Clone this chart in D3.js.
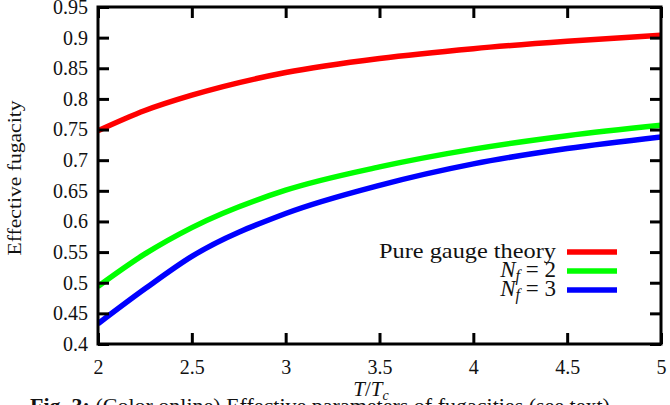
<!DOCTYPE html>
<html lang="en">
<head>
<meta charset="UTF-8">
<title>Effective fugacity</title>
<script src="https://d3js.org/d3.v7.min.js"></script>
<style>
  body { margin: 0; background: #fff; }
  svg { display: block; }
  text { font-family: "Liberation Serif", "DejaVu Serif", serif; fill: #111; }
</style>
</head>
<body>
<svg id="chart" width="670" height="405"></svg>
<script>
// values
const temps = [2, 2.25, 2.5, 3, 3.5, 4, 4.5, 5];
const pureGauge = [0.748, 0.781, 0.806, 0.843, 0.866, 0.882, 0.894, 0.904];
const nf2 = [0.494, 0.547, 0.590, 0.651, 0.689, 0.718, 0.740, 0.757];
const nf3 = [0.433, 0.490, 0.543, 0.613, 0.659, 0.694, 0.719, 0.738];
const xTicks = [2, 2.5, 3, 3.5, 4, 4.5, 5];
const yTicks = [0.4, 0.45, 0.5, 0.55, 0.6, 0.65, 0.7, 0.75, 0.8, 0.85, 0.9, 0.95];
const seriesNames = ["Pure gauge theory", "N_f = 2", "N_f = 3"];
const seriesColors = ["#ff0000", "#00ff00", "#0000ff"];

const svg = d3.select("#chart");
const L = 98, R = 661, T = 7, B = 344;

const x = d3.scaleLinear().domain([2, 5]).range([L, R]);
const y = d3.scaleLinear().domain([0.4, 0.95]).range([B, T]);

svg.append("clipPath").attr("id", "plotclip")
  .append("rect").attr("x", L).attr("y", T).attr("width", R - L).attr("height", B - T);

// curves
const line = d3.line().x(d => x(d[0])).y(d => y(d[1])).curve(d3.curveMonotoneX);
[pureGauge, nf2, nf3].forEach((vals, i) => {
  svg.append("path")
    .datum(temps.map((t, j) => [t, vals[j]]))
    .attr("d", line)
    .attr("fill", "none")
    .attr("stroke", seriesColors[i])
    .attr("stroke-width", 5.5)
    .attr("clip-path", "url(#plotclip)");
});

// axes, ticks inward and mirrored
const tickLen = 11;
const axisStyle = g => {
  g.select(".domain").remove();
  g.selectAll(".tick line").attr("stroke", "#000").attr("stroke-width", 3);
  g.selectAll(".tick text").attr("font-size", 20).attr("font-family", "Liberation Serif, serif").attr("fill", "#111");
};
svg.append("g").attr("transform", `translate(0,${B})`)
  .call(d3.axisBottom(x).tickValues(xTicks).tickSize(-tickLen).tickPadding(16).tickFormat(d3.format("")))
  .call(axisStyle);
svg.append("g").attr("transform", `translate(0,${T})`)
  .call(d3.axisTop(x).tickValues(xTicks).tickSize(-tickLen).tickFormat(""))
  .call(axisStyle);
svg.append("g").attr("transform", `translate(${L},0)`)
  .call(d3.axisLeft(y).tickValues(yTicks).tickSize(-tickLen).tickPadding(10).tickFormat(d3.format("")))
  .call(axisStyle);
svg.append("g").attr("transform", `translate(${R},0)`)
  .call(d3.axisRight(y).tickValues(yTicks).tickSize(-tickLen).tickFormat(""))
  .call(axisStyle);

svg.append("rect")
  .attr("x", L).attr("y", T).attr("width", R - L).attr("height", B - T)
  .attr("fill", "none").attr("stroke", "#000").attr("stroke-width", 3);

// legend
const legY = [252, 271, 290];
seriesNames.forEach((name, i) => {
  const t = svg.append("text")
    .attr("x", 556).attr("y", legY[i] + 6)
    .attr("text-anchor", "end").attr("font-size", 22);
  if (name.startsWith("N_f")) {
    t.attr("font-size", 23);
    t.append("tspan").attr("font-style", "italic").text("N");
    t.append("tspan").attr("font-style", "italic").attr("font-size", 16).attr("dy", 4).text("f");
    t.append("tspan").attr("dy", -4).text(" = " + name.split("= ")[1]);
  } else {
    t.attr("textLength", 177).attr("lengthAdjust", "spacingAndGlyphs").text(name);
  }
  svg.append("line")
    .attr("x1", 567).attr("x2", 617)
    .attr("y1", legY[i]).attr("y2", legY[i])
    .attr("stroke", seriesColors[i]).attr("stroke-width", 5.5);
});

// axis titles
const xt = svg.append("text").attr("x", 371).attr("y", 396)
  .attr("text-anchor", "middle").attr("font-size", 21);
xt.append("tspan").attr("font-style", "italic").text("T");
xt.append("tspan").text("/");
xt.append("tspan").attr("font-style", "italic").text("T");
xt.append("tspan").attr("font-style", "italic").attr("font-size", 14).attr("dy", 4).text("c");

svg.append("text")
  .attr("transform", "translate(21,178) rotate(-90)")
  .attr("text-anchor", "middle").attr("font-size", 19)
  .attr("textLength", 155).attr("lengthAdjust", "spacingAndGlyphs")
  .text("Effective fugacity");

// caption (cut off by the window)
const cap = svg.append("text").attr("x", 30).attr("y", 413).attr("font-size", 22);
cap.append("tspan").attr("font-weight", "bold").text("Fig. 3:");
cap.append("tspan").text(" (Color online) Effective parameters of fugacities (see text)");
</script>
</body>
</html>
